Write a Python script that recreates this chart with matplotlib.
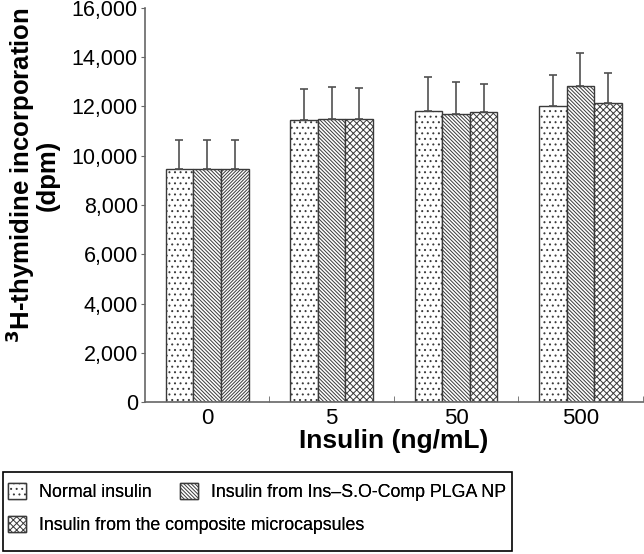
import numpy as np
import matplotlib
matplotlib.use("Agg")
import matplotlib.pyplot as plt
from matplotlib.patches import Rectangle

plt.rcParams['font.family'] = ['Liberation Sans', 'DejaVu Sans']
plt.rcParams['hatch.color'] = '#5a5a5a'
plt.rcParams['hatch.linewidth'] = 0.7

# données
doses = ['0', '5', '50', '500']
normal = [9450, 11430, 11810, 12010]
normal_err = [1180, 1270, 1400, 1280]
plga = [9450, 11500, 11700, 12820]
plga_err = [1180, 1280, 1290, 1360]
micro = [9450, 11470, 11760, 12150]
micro_err = [1180, 1270, 1160, 1200]

labels = ['Normal insulin', 'Insulin from Ins\u2013S.O-Comp PLGA NP',
          'Insulin from the composite microcapsules']

fig = plt.figure(figsize=(6.44, 5.54), dpi=100)
ax = fig.add_axes([0.225, 0.274, 0.773, 0.712])

x = np.arange(len(doses))
w = 0.222
edge = '#3a3a3a'
err_kw = dict(ecolor='#505050', elinewidth=1.2, capsize=3, capthick=1.2)

b1 = ax.bar(x - w, normal, w, yerr=[np.zeros(4), normal_err], color='white',
            edgecolor=edge, linewidth=1, hatch='...', error_kw=err_kw)
b2 = ax.bar(x, plga, w, yerr=[np.zeros(4), plga_err], color='white',
            edgecolor=edge, linewidth=1, hatch='\\' * 9, error_kw=err_kw)
b3 = ax.bar(x + w, micro, w, yerr=[np.zeros(4), micro_err], color='white',
            edgecolor=edge, linewidth=1, hatch='xxxxx', error_kw=err_kw)
# la troisième barre du groupe 0 a des hachures obliques
b3[0].set_hatch('/' * 10)

ax.set_xlim(-0.5, 3.5)
ax.set_ylim(0, 16000)
ax.set_yticks(np.arange(0, 16001, 2000))
ax.set_yticklabels(['{:,}'.format(v) for v in range(0, 16001, 2000)], fontsize=15.5)
ax.set_xticks(x)
ax.set_xticklabels(doses, fontsize=16)
ax.tick_params(axis='x', length=0, pad=4)
ax.set_xticks(np.arange(0.5, 3.6, 1), minor=True)
ax.tick_params(axis='x', which='minor', direction='in', length=4, color='#666666')
ax.tick_params(axis='y', direction='out', length=3, color='#666666', pad=2)

for s in ['top', 'right']:
    ax.spines[s].set_visible(False)
for s in ['left', 'bottom']:
    ax.spines[s].set_color('#666666')
    ax.spines[s].set_linewidth(1.2)

ax.set_xlabel('Insulin (ng/mL)', fontsize=19, fontweight='bold', labelpad=0)
ax.set_ylabel('$^{\\mathbf{3}}$H-thymidine incorporation\n(dpm)', fontsize=18.5,
              fontweight='bold', linespacing=0.95)
ax.yaxis.set_label_coords(-0.171, 0.575)

# cadre de la légende
fig.patches.append(Rectangle((3 / 644, 1 - 551 / 554), 509 / 644, 79 / 554,
                             transform=fig.transFigure, fill=False,
                             edgecolor='black', linewidth=1.2))

leg_kw = dict(loc='center left', frameon=False, fontsize=12.8, handlelength=1.0,
              handleheight=1.0, handletextpad=0.75, borderpad=0, borderaxespad=0)
entries = [(b1, labels[0], 8, 492), (b2, labels[1], 180, 492),
           (b3[1], labels[2], 8, 525)]
for h, lab, px, py in entries:
    fig.add_artist(fig.legend([h], [lab], bbox_to_anchor=(px / 644, 1 - py / 554),
                              **leg_kw))

plt.savefig('out.png', dpi=100)
